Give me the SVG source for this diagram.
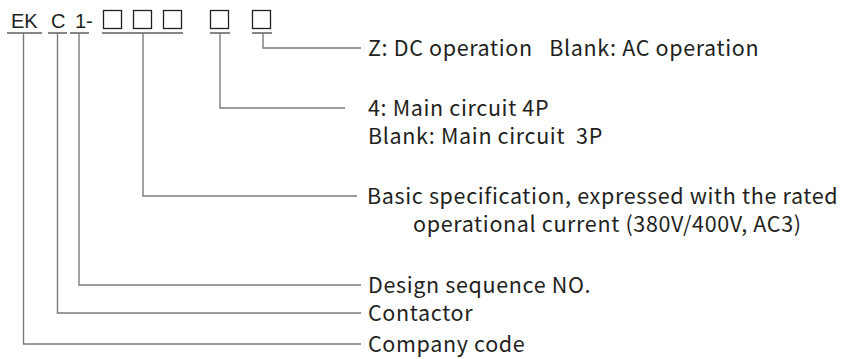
<svg xmlns="http://www.w3.org/2000/svg" width="843" height="359" viewBox="0 0 843 359">
<style>
.code{font-family:"Liberation Sans",Arial,sans-serif;font-size:20px;fill:#231f20}
.lbl{font-family:"Noto Sans CJK SC","Noto Sans",sans-serif;font-size:21.5px;letter-spacing:0.65px;fill:#231f20}
.box{fill:none;stroke:#231f20;stroke-width:1.3}
.ul{stroke:#8a8686;stroke-width:2;fill:none}
.ln{stroke:#7d7979;stroke-width:1.4;fill:none}
</style>
<rect width="843" height="359" fill="#ffffff"/>
<g id="code">
<text class="code" x="11" y="27.5">EK</text>
<text class="code" x="51" y="27.5">C</text>
<text class="code" x="75" y="27.5">1-</text>
<rect class="box" x="103.5" y="10.5" width="18" height="18"/>
<rect class="box" x="133.5" y="10.5" width="18" height="18"/>
<rect class="box" x="163.5" y="10.5" width="18" height="18"/>
<rect class="box" x="210.5" y="10.5" width="18" height="18"/>
<rect class="box" x="252.5" y="10.5" width="18" height="18"/>
</g>
<g id="connectors">
<line class="ul" x1="7" y1="33" x2="42" y2="33"/>
<line class="ul" x1="48" y1="33" x2="67" y2="33"/>
<line class="ul" x1="70" y1="33" x2="89" y2="33"/>
<line class="ul" x1="102" y1="33" x2="183" y2="33"/>
<line class="ul" x1="210" y1="33" x2="230" y2="33"/>
<line class="ul" x1="252" y1="33" x2="272" y2="33"/>
<polyline class="ln" points="263,33 263,48 361,48"/>
<polyline class="ln" points="220,33 220,108 345,108"/>
<polyline class="ln" points="143,33 143,196 357,196"/>
<polyline class="ln" points="79,33 79,285 361,285"/>
<polyline class="ln" points="57.5,33 57.5,313 361,313"/>
<polyline class="ln" points="23.5,33 23.5,344 361,344"/>
</g>
<g id="n-operation"><text class="lbl" x="368" y="56" xml:space="preserve">Z: DC operation   Blank: AC operation</text></g>
<g id="n-poles">
<text class="lbl" x="368" y="116">4: Main circuit 4P</text>
<text class="lbl" x="368" y="144" xml:space="preserve">Blank: Main circuit  3P</text>
</g>
<g id="n-spec">
<text class="lbl" x="367" y="204">Basic specification, expressed with the rated</text>
<text class="lbl" x="413" y="232">operational current (380V/400V, AC3)</text>
</g>
<g id="n-design"><text class="lbl" x="368" y="293">Design sequence NO.</text></g>
<g id="n-contactor"><text class="lbl" x="368" y="321">Contactor</text></g>
<g id="n-company"><text class="lbl" x="368" y="352">Company code</text></g>
</svg>
